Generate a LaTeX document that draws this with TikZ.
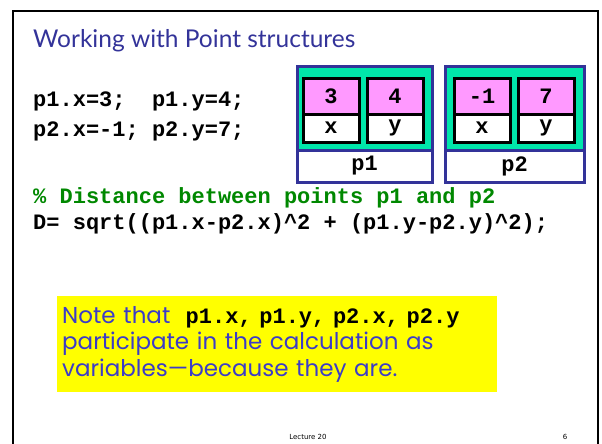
\documentclass[tikz,border=0pt]{standalone}
\usepackage{fontspec}
\setmainfont{Lato}
\newfontfamily\codefont{Liberation Mono}
\newfontfamily\notefont{Poppins}
\newfontfamily\footfont{DejaVu Sans}
\usetikzlibrary{positioning}
\definecolor{slblue}{RGB}{51,51,153}
\definecolor{slnote}{RGB}{60,60,200}
\definecolor{slgreen}{RGB}{0,230,170}
\definecolor{slpink}{RGB}{255,153,255}
\definecolor{slcomment}{RGB}{0,136,0}
\definecolor{slyellow}{RGB}{255,255,0}
\newcommand{\codeface}{\codefont\bfseries\fontsize{22}{26}\selectfont}
\tikzset{
    frameline/.style={line width=1.5pt, black},
    title/.style={anchor=base west, inner sep=0pt, text=slblue, font=\fontsize{24.5}{28}\selectfont},
    code/.style={anchor=base west, inner sep=0pt, font=\codeface},
    comment/.style={code, text=slcomment},
    structbox/.style={draw=slblue, line width=3pt, fill=slgreen, outer sep=0pt,
                      minimum width=135pt, minimum height=83pt},
    namebox/.style={draw=slblue, line width=3pt, fill=white, outer sep=0pt,
                    minimum width=135pt, minimum height=32pt, inner sep=0pt, font=\codeface},
    valcell/.style={draw=black, line width=3pt, fill=slpink, outer sep=0pt, inner sep=0pt,
                    minimum width=56pt, minimum height=36pt, font=\codeface},
    namecell/.style={valcell, fill=white, minimum height=28pt},
    notebox/.style={fill=slyellow, anchor=north west, minimum width=440pt, minimum height=96pt,
                    text width=430pt, inner sep=5pt, align=left, text=slnote,
                    font=\notefont\fontsize{23}{26.5}\selectfont},
    foot/.style={inner sep=0pt, font=\footfont\fontsize{7}{8}\selectfont},
}

\begin{document}
\begin{tikzpicture}[x=1pt, y=-1pt]
    \useasboundingbox (0,0) rectangle (602,444);
    % slide frame
    \draw[frameline] (13,444) -- (13,11) -- (598,11) -- (598,444);
    \draw[frameline, line width=2.5pt] (13,444) -- (13,11);
    \node[title] (title) at (33,48) {Working with Point structures};
    \node[code] (ln1) at (33,106) {p1.x=3;\ \ p1.y=4;};
    \node[code] (ln2) at (33,136) {p2.x=-1; p2.y=7;};
    % the two structures
    \node[structbox] (p1) at (364.5,108.5) {};
    \node[namebox, below=0pt of p1] (p1name) {p1};
    \node[valcell] (p1x) at (331,96) {3};
    \node[valcell, right=8pt of p1x] (p1y) {4};
    \node[namecell, below=0pt of p1x] (p1xl) {x};
    \node[namecell, below=0pt of p1y] (p1yl) {y};
    \node[structbox, minimum width=139pt] (p2) at (514.5,108.5) {};
    \node[namebox, minimum width=139pt, below=0pt of p2] (p2name) {p2};
    \node[valcell] (p2x) at (482,96) {-1};
    \node[valcell, right=8pt of p2x] (p2y) {7};
    \node[namecell, below=0pt of p2x] (p2xl) {x};
    \node[namecell, below=0pt of p2y] (p2yl) {y};
    % distance
    \node[comment] (cmt) at (33,203) {\% Distance between points p1 and p2};
    \node[code] (dist) at (33,229) {D= sqrt((p1.x-p2.x)\textasciicircum2 + (p1.y-p2.y)\textasciicircum2);};
    \node[notebox] (note) at (57,296) {Note that\ \ {\codeface\textcolor{black}{p1.x, p1.y, p2.x, p2.y}}\\
        participate in the calculation as\\variables—because they are.};
    \node[foot] (lect) at (308,437) {Lecture 20};
    \node[foot] (page) at (565,437) {6};
\end{tikzpicture}
\end{document}
